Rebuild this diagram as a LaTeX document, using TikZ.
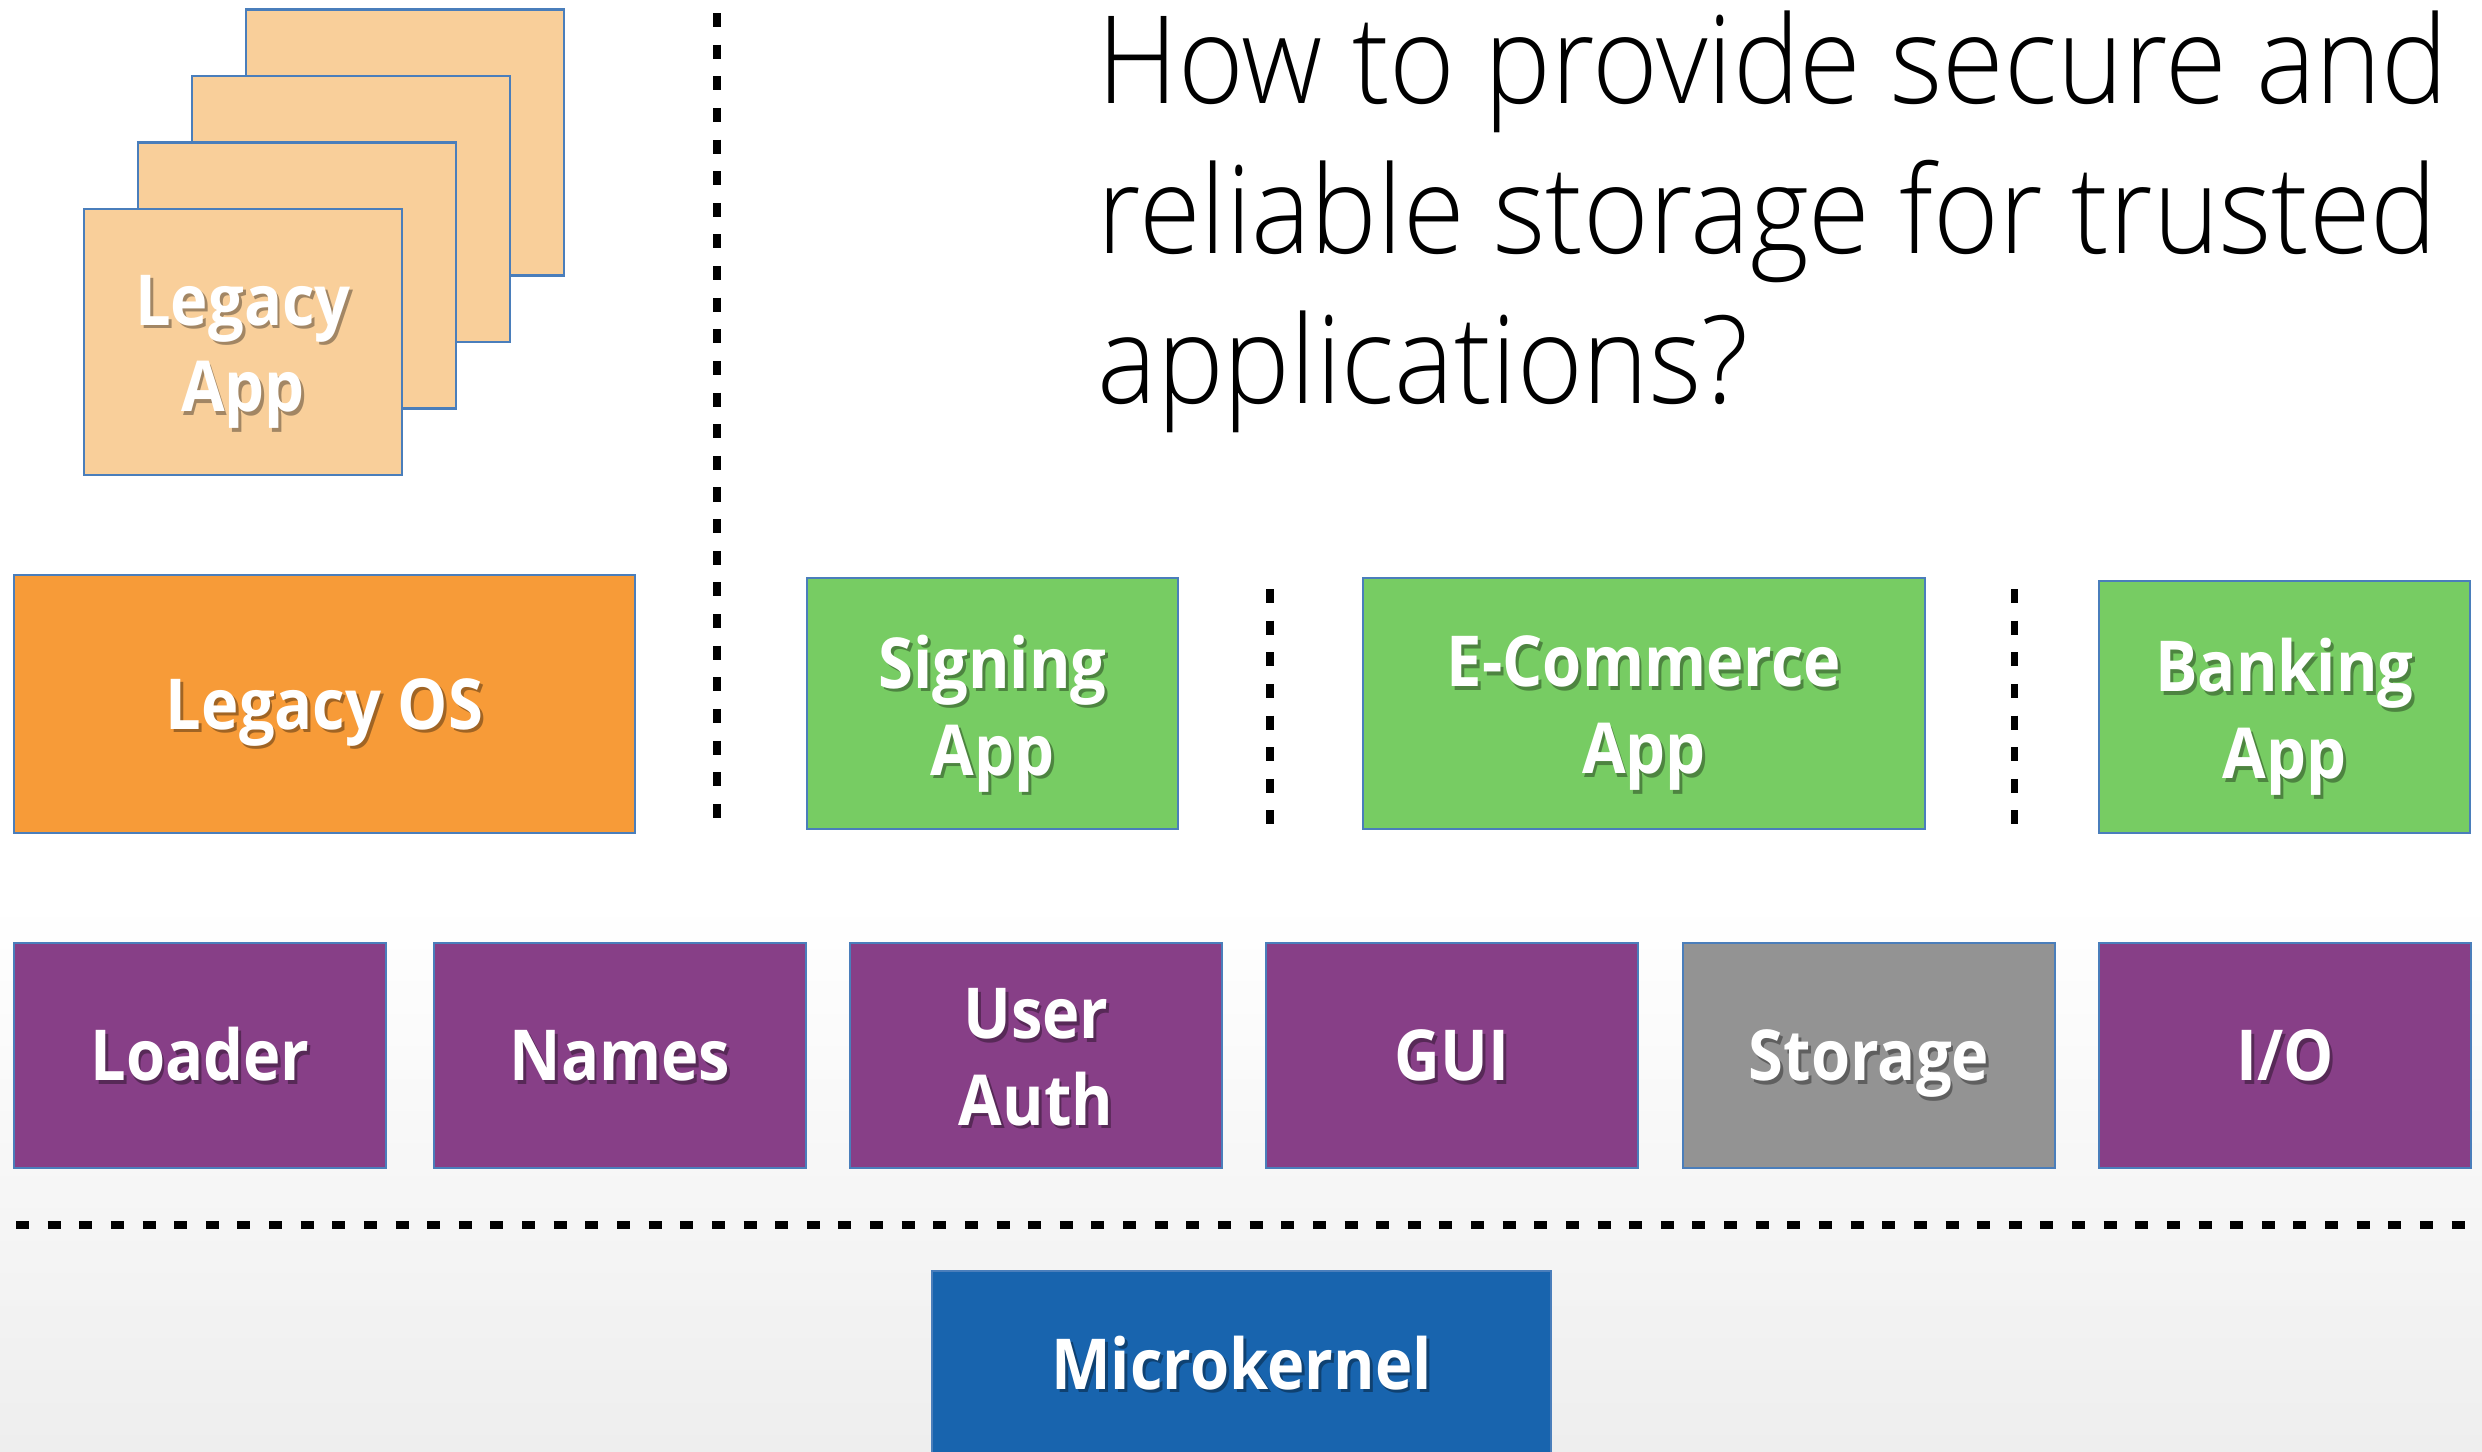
\documentclass[tikz,border=0pt]{standalone}
\usepackage{fontspec}
\setmainfont{Open Sans}
\newfontfamily\titlefont{Open Sans Light}[FakeStretch=0.92]
\newfontfamily\boxfont{Open Sans}[FakeStretch=0.9]
\usepackage{tikz}
\usetikzlibrary{positioning}
\definecolor{cardfill}{HTML}{F9CF9A}
\definecolor{osorange}{HTML}{F79B38}
\definecolor{appgreen}{HTML}{77CC63}
\definecolor{srvpurple}{HTML}{873F87}
\definecolor{srvgrey}{HTML}{939393}
\definecolor{kernelblue}{HTML}{1864AE}
\definecolor{edgeblue}{HTML}{4A7EBB}
\definecolor{bggrey}{HTML}{EEEEEE}
\tikzstyle{block} = [draw=edgeblue, line width=0.6pt, inner sep=0pt]
\tikzstyle{boxtext} = [text=white, font=\boxfont\bfseries\fontsize{20}{24.7}\selectfont, align=center, inner sep=0pt, execute at begin node=\linestrut]
\tikzstyle{boxshadow} = [boxtext, text=black, text opacity=0.35]
\tikzstyle{sep} = [line width=2pt, dash pattern=on 4pt off 5pt]
\tikzstyle{title} = [anchor=base west, inner sep=0pt, font=\titlefont\fontsize{34.7}{42.7}\selectfont]
% every line gets the same height, so the caps sit in the middle
\newcommand{\linestrut}{\rule[-5.2pt]{0pt}{24.7pt}}
\newcommand{\lbreak}{\\\linestrut}
% #1 = extra shift for two-line labels
\newcommand{\boxlabel}[3][0pt]{%
    \node[boxshadow] (#2s) at ([xshift=0.8pt,yshift=-1pt+#1]#2.center) {#3};
    \node[boxtext] (#2t) at ([yshift=#1]#2.center) {#3};}

\begin{document}
\begin{tikzpicture}
        \useasboundingbox (0,0) rectangle (24.82,-14.51);
        \fill[white] (0,0) rectangle (24.82,-14.51);
        \fill[top color=white, bottom color=bggrey] (0,-9) rectangle (24.82,-14.51);
        % stack of legacy apps, back to front
        \foreach \k in {3,2,1,0}{
            \node[block, line width=0.8pt, fill=cardfill, minimum width=3.18cm, minimum height=2.66cm] (card\k) at (2.43+0.54*\k,-3.42+0.665*\k) {};
        }
        \boxlabel[-3pt]{card0}{Legacy\lbreak App}
        \foreach \ln [count=\i] in {How to provide secure and, reliable storage for trusted, applications?}{
            \node[title] (title\i) at (10.97,-1.03-1.5*\i+1.5) {\ln};
        }
        % isolation lines
        \draw[sep] (7.17,-0.13) -- (7.17,-8.26);
        \draw[sep] (12.70,-5.89) -- (12.70,-8.26);
        \draw[sep] (20.14,-5.89) -- (20.14,-8.26);
        \draw[sep, line width=2.5pt, dash pattern=on 3.7pt off 5.3pt] (0.16,-12.25) -- (24.66,-12.25);
        % os and apps
        \node[block, fill=osorange, minimum width=6.21cm, minimum height=2.58cm] (legacyos) at (3.245,-7.04) {};
        \node[block, fill=appgreen, minimum width=3.71cm, minimum height=2.51cm] (signing) at (9.925,-7.035) {};
        \node[block, fill=appgreen, minimum width=5.62cm, minimum height=2.51cm] (ecommerce) at (16.44,-7.035) {};
        \node[block, fill=appgreen, minimum width=3.71cm, minimum height=2.52cm] (banking) at (22.845,-7.07) {};
        \boxlabel{legacyos}{Legacy OS}
        \boxlabel[-3pt]{signing}{Signing\lbreak App}
        \boxlabel[-3pt]{ecommerce}{E-Commerce\lbreak App}
        \boxlabel[-3pt]{banking}{Banking\lbreak App}
        % trusted services
        \foreach \nm/\txt/\col/\x/\dy in {loader/Loader/srvpurple/2.00/0pt, names/Names/srvpurple/6.20/0pt, auth/{User\lbreak Auth}/srvpurple/10.36/-3pt, gui/GUI/srvpurple/14.52/0pt, storage/Storage/srvgrey/18.69/0pt, io/{I/O}/srvpurple/22.85/0pt}{
            \node[block, fill=\col, minimum width=3.72cm, minimum height=2.25cm] (\nm) at (\x,-10.555) {};
            \boxlabel[\dy]{\nm}{\txt}
        }
        \node[block, fill=kernelblue, minimum width=6.19cm, minimum height=1.86cm] (kernel) at (12.415,-13.64) {};
        \boxlabel{kernel}{Microkernel}
    \end{tikzpicture}
\end{document}
